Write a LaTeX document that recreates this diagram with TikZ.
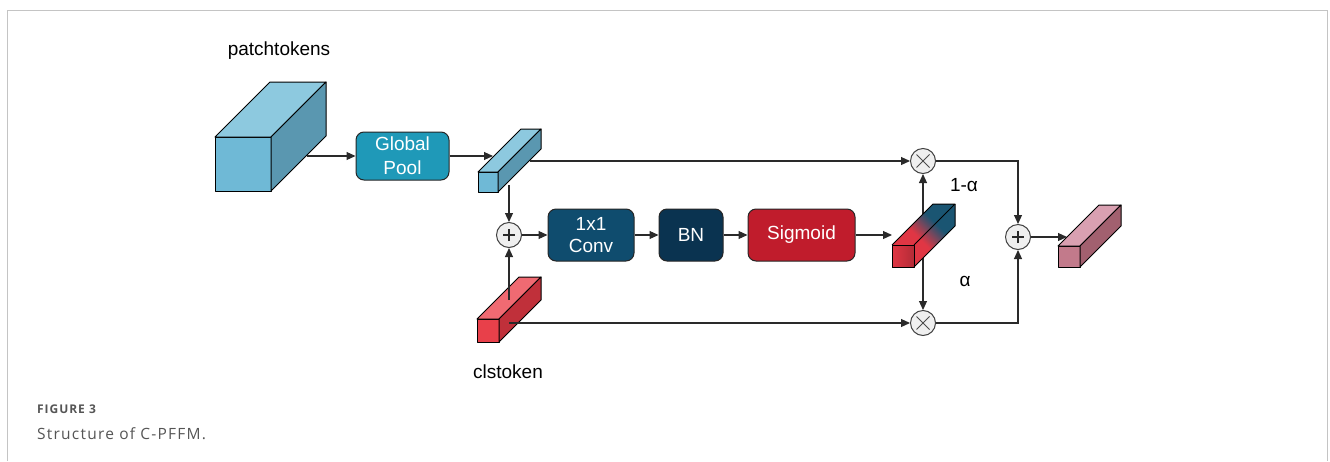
\documentclass[tikz,border=0pt]{standalone}
\usepackage{fontspec}
\setmainfont{Liberation Sans}
\newfontfamily\capfont[LetterSpace=8]{Open Sans}
\usetikzlibrary{arrows.meta}
\definecolor{bigF}{HTML}{6FB9D6}
\definecolor{bigT}{HTML}{8DC9DF}
\definecolor{bigS}{HTML}{5A97B0}
\definecolor{gpc}{HTML}{1F99B8}
\definecolor{convc}{HTML}{0F4C6E}
\definecolor{bnc}{HTML}{0A3350}
\definecolor{sigc}{HTML}{C01C2C}
\definecolor{redF}{HTML}{E8404A}
\definecolor{redT}{HTML}{F06A72}
\definecolor{redS}{HTML}{C0303A}
\definecolor{pinkF}{HTML}{C27A8B}
\definecolor{pinkT}{HTML}{D9A0B1}
\definecolor{pinkS}{HTML}{A2606F}
\definecolor{gbred}{HTML}{E03644}
\definecolor{gbdark}{HTML}{1A5572}
\definecolor{gblight}{HTML}{6AAFCB}
\definecolor{linec}{HTML}{2A2A2A}
\definecolor{circf}{HTML}{EFEFEF}
\definecolor{capgray}{HTML}{555555}
\definecolor{framegray}{HTML}{C4C4C4}
\pgfdeclarehorizontalshading{gradbar}{100bp}{color(0bp)=(gbred); color(46bp)=(gbred); color(64bp)=(gbdark); color(82bp)=(gbdark); color(100bp)=(gblight)}
% x, y (top-left of front face), w, h, depth, front, top, side
\newcommand{\cuboid}[8]{%
  \filldraw[#6, draw=black, line width=1pt, line join=round] (#1,#2) rectangle ++(#3,#4);
  \filldraw[#7, draw=black, line width=1pt, line join=round] (#1,#2) -- ++(#5,-#5) -- ++(#3,0) -- ++(-#5,#5) -- cycle;
  \filldraw[#8, draw=black, line width=1pt, line join=round] (#1+#3,#2) -- ++(#5,-#5) -- ++(0,#4) -- ++(-#5,#5) -- cycle;
}
\tikzset{
  lab/.style={font=\fontsize{19}{22}\selectfont},
  proc/.style={rounded corners=8pt, draw=black!85, line width=1pt, text=white, align=center, inner sep=0pt, font=\fontsize{19}{22}\selectfont},
  circ/.style={circle, draw=black!75, fill=circf, line width=1pt, minimum size=25pt, inner sep=0pt},
  arr/.style={draw=linec, line width=1.1pt, -{Triangle[length=9pt,width=8pt]}},
}
\begin{document}
\begin{tikzpicture}[x=1pt,y=-1pt]
\useasboundingbox (0,0) rectangle (1330,461);
\draw[framegray, line width=1pt] (7,461) -- (7,10) -- (1327,10) -- (1327,461);

% nodes
\node[proc, fill=gpc, minimum width=93pt, minimum height=48pt] (gp) at (402.5,156) {Global\\[2pt]Pool};
\node[proc, fill=convc, minimum width=86pt, minimum height=52pt] (conv) at (591,235) {1x1\\[0pt]Conv};
\node[proc, fill=bnc, minimum width=64pt, minimum height=52pt] (bn) at (691,235) {BN};
\node[proc, fill=sigc, minimum width=107pt, minimum height=52pt] (sig) at (801.5,235) {Sigmoid};
\node[circ] (addL) at (509,235) {};
\node[circ] (mulT) at (923,161) {};
\node[circ] (mulB) at (923,323) {};
\node[circ] (addR) at (1018,237) {};
\foreach \n in {addL,addR}{
  \draw[linec, line width=1.2pt] ([xshift=-6pt]\n.center) -- ([xshift=6pt]\n.center);
  \draw[linec, line width=1.2pt] ([yshift=-6pt]\n.center) -- ([yshift=6pt]\n.center);
}
\foreach \n in {mulT,mulB}{
  \draw[black!70, line width=1pt] ([shift={(-6.5pt,-6.5pt)}]\n.center) -- ([shift={(6.5pt,6.5pt)}]\n.center);
  \draw[black!70, line width=1pt] ([shift={(-6.5pt,6.5pt)}]\n.center) -- ([shift={(6.5pt,-6.5pt)}]\n.center);
}

\node[lab] (ptlab) at (279,51) {patchtokens};
\node[lab] (cllab) at (508,372) {clstoken};
\node[lab] (onema) at (964,185) {1-α};
\node[lab] (alab) at (965,281) {α};

% coordinates on the tensors
\coordinate (ptout) at (307,156);
\coordinate (bbin) at (493,156);
\coordinate (bbr) at (530,161);
\coordinate (bbd) at (509,185);
\coordinate (rbu) at (509,300);
\coordinate (rbr) at (509,323);
\coordinate (gbin) at (892,235);
\coordinate (gbc) at (923,240);
\coordinate (pbin) at (1067,237);
\coordinate (cT) at (1018,161);
\coordinate (cB) at (1018,323);

% connectors behind gradient bar
\draw[arr] (gbc) -- (mulT.south);
\draw[arr] (gbc) -- (mulB.north);

% tensors
\cuboid{215}{137}{56}{54}{55}{bigF}{bigT}{bigS}
\cuboid{478}{172}{20}{20}{43}{bigF}{bigT}{bigS}
\cuboid{477}{319}{22}{23}{42}{redF}{redT}{redS}
\cuboid{1058}{246}{22}{21}{41}{pinkF}{pinkT}{pinkS}
% gradient bar
\shade[shading=gradbar, shading angle=45] (892,245) -- ++(41,-41) -- ++(22,0) -- ++(0,22) -- ++(-41,41) -- ++(-22,0) -- cycle;
\shade[left color=gbred, right color=gbred!80!black] (892,245) rectangle ++(22,22);
\draw[black, line width=1pt, line join=round] (892,245) rectangle ++(22,22);
\draw[black, line width=1pt, line join=round] (892,245) -- ++(41,-41) -- ++(22,0) -- ++(-41,41);
\draw[black, line width=1pt, line join=round] (955,204) -- ++(0,22) -- ++(-41,41);

% connectors
\draw[arr] (ptout) -- (gp.west);
\draw[arr] (gp.east) -- (bbin);
\draw[arr] (bbr) -- (mulT.west);
\draw[arr] (bbd) -- (addL.north);
\draw[arr] (rbu) -- (addL.south);
\draw[arr] (rbr) -- (mulB.west);
\draw[arr] (addL.east) -- (conv.west);
\draw[arr] (conv.east) -- (bn.west);
\draw[arr] (bn.east) -- (sig.west);
\draw[arr] (sig.east) -- (gbin);
\draw[arr] (mulT.east) -- (cT) -- (addR.north);
\draw[arr] (mulB.east) -- (cB) -- (addR.south);
\draw[arr] (addR.east) -- (pbin);

% caption
\node[anchor=west, text=capgray, inner sep=0pt, font=\capfont\fontsize{12}{14}\selectfont\bfseries] (fig) at (37,409) {FIGURE 3};
\node[anchor=west, text=capgray, inner sep=0pt, font=\capfont\fontsize{15.5}{18}\selectfont] (capt) at (37,434) {Structure of C-PFFM.};
\end{tikzpicture}
\end{document}
